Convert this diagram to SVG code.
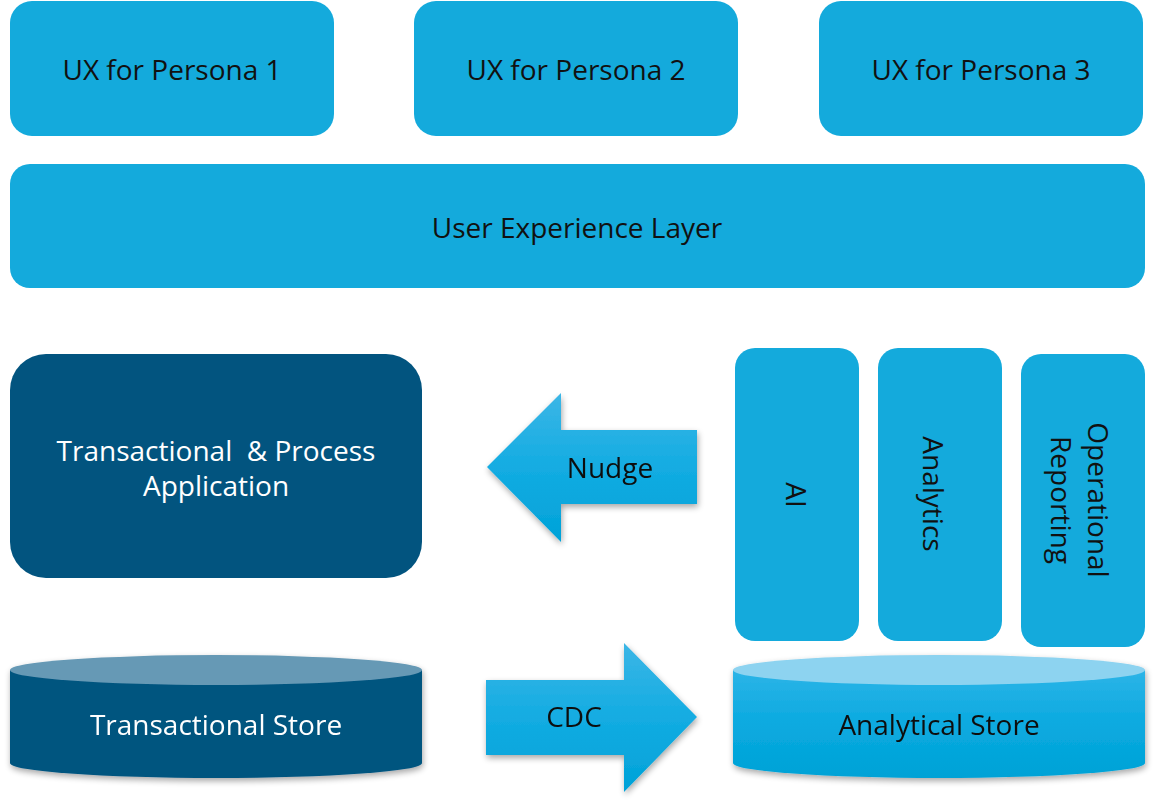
<svg xmlns="http://www.w3.org/2000/svg" width="1156" height="805" viewBox="0 0 1156 805">
<style>
.lb{fill:#14aadc}
.dk{fill:#02547f}
.t{font-family:"Open Sans","Noto Sans","DejaVu Sans",sans-serif;font-size:28px;text-anchor:middle;dominant-baseline:central;white-space:pre}
.bk{fill:#111}
.wh{fill:#fff}
</style>
<defs>
<linearGradient id="ag" x1="0" y1="0" x2="0" y2="1">
<stop offset="0" stop-color="#3cb6e6"/>
<stop offset="0.5" stop-color="#13ace2"/>
<stop offset="1" stop-color="#00a2d8"/>
</linearGradient>
<linearGradient id="cg" x1="0" y1="0" x2="0" y2="1">
<stop offset="0" stop-color="#2db4e7"/>
<stop offset="0.5" stop-color="#0aaae0"/>
<stop offset="1" stop-color="#00a2d6"/>
</linearGradient>
<filter id="sh" x="-10%" y="-10%" width="120%" height="130%">
<feGaussianBlur in="SourceAlpha" stdDeviation="3"/>
<feOffset dx="1" dy="3"/>
<feComponentTransfer><feFuncA type="linear" slope="0.35"/></feComponentTransfer>
<feMerge><feMergeNode/><feMergeNode in="SourceGraphic"/></feMerge>
</filter>
</defs>
<g id="persona1"><rect class="lb" x="10" y="1" width="324" height="135" rx="22"/><text class="t bk" x="172" y="69">UX for Persona 1</text></g>
<g id="persona2"><rect class="lb" x="414" y="1" width="324" height="135" rx="22"/><text class="t bk" x="576" y="69">UX for Persona 2</text></g>
<g id="persona3"><rect class="lb" x="819" y="1" width="324" height="135" rx="22"/><text class="t bk" x="981" y="69">UX for Persona 3</text></g>
<g id="uxlayer"><rect class="lb" x="10" y="164" width="1135" height="124" rx="20"/><text class="t bk" x="577" y="227">User Experience Layer</text></g>
<g id="txapp"><rect class="dk" x="10" y="354" width="412" height="224" rx="36"/><text class="t wh" x="216" y="450">Transactional  &amp; Process</text><text class="t wh" x="216" y="485">Application</text></g>
<g id="ai"><rect class="lb" x="735" y="348" width="124" height="293" rx="20"/><text class="t bk" transform="translate(797 495) rotate(90)">AI</text></g>
<g id="analytics"><rect class="lb" x="878" y="348" width="124" height="293" rx="20"/><text class="t bk" transform="translate(934 494) rotate(90)">Analytics</text></g>
<g id="opreport"><rect class="lb" x="1021" y="354" width="124" height="293" rx="20"/><text class="t bk" transform="translate(1081 500) rotate(90)"><tspan x="0" y="-18">Operational</tspan><tspan x="0" y="19">Reporting</tspan></text></g>
<g id="txstore" filter="url(#sh)">
<path class="dk" d="M10 670 L10 763 A206 15 0 0 0 422 763 L422 670 Z"/>
<ellipse cx="216" cy="670" rx="206" ry="15" fill="#6699b5"/>
<text class="t wh" x="216" y="724">Transactional Store</text>
</g>
<g id="anstore" filter="url(#sh)">
<path fill="url(#cg)" d="M733 670 L733 763 A206 15 0 0 0 1145 763 L1145 670 Z"/>
<ellipse cx="939" cy="670" rx="206" ry="15" fill="#8dd3f0"/>
<text class="t bk" x="939" y="724">Analytical Store</text>
</g>
<g id="connectors">
<g id="nudge" filter="url(#sh)">
<path fill="url(#ag)" d="M487 467 L561 393 L561 430 L697 430 L697 504 L561 504 L561 542 Z"/>
<text class="t bk" x="610" y="467">Nudge</text>
</g>
<g id="cdc" filter="url(#sh)">
<path fill="url(#ag)" d="M486 680 L624 680 L624 643 L697 717 L624 792 L624 755 L486 755 Z"/>
<text class="t bk" x="574" y="716">CDC</text>
</g>
</g>
</svg>
